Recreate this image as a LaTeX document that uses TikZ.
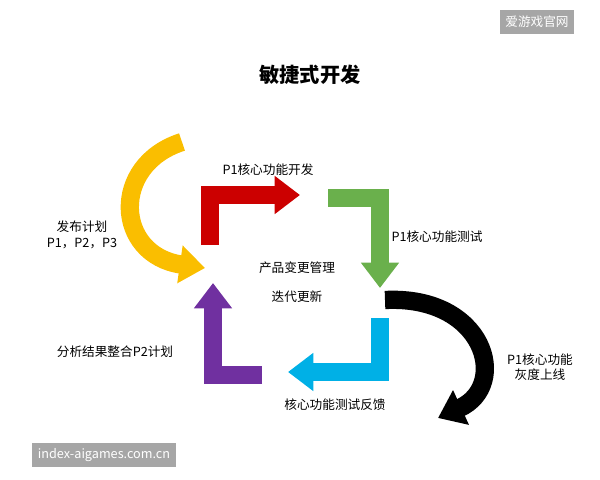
\documentclass[tikz,border=0pt]{standalone}
\usepackage{fontspec}
\setmainfont{Noto Sans CJK SC}
\usetikzlibrary{arrows.meta,positioning}
\definecolor{leaf}{RGB}{106,176,76}
\definecolor{plum}{RGB}{112,48,160}
\definecolor{sky}{RGB}{0,176,230}
\definecolor{gold}{RGB}{250,190,0}
\tikzset{
    flow/.style={line width=13pt, -{Triangle[length=18pt,width=26pt]}},
    lbl/.style={font=\small, align=center},
    wmark/.style={fill=gray!70, text=white, font=\small, inner sep=4pt}
}
\begin{document}
\begin{tikzpicture}[x=0.025cm, y=-0.025cm]
\useasboundingbox (0,0) rectangle (600,480);

% ---------------- Title ----------------
\node[font=\Large\bfseries] (title) at (310,75) {敏捷式开发};

% ---------------- Cycle ----------------
\coordinate (r0) at (210,245);
\coordinate (r1) at (300,195);
\draw[flow, red!80!black] (r0) |- (r1);
\coordinate (g0) at (328,198);
\coordinate (g1) at (380,288);
\draw[flow, leaf] (g0) -| (g1);
\coordinate (b0) at (380,318);
\coordinate (b1) at (288,372);
\draw[flow, sky] (b0) |- (b1);
\coordinate (p0) at (262,375);
\coordinate (p1) at (213,283);
\draw[flow, plum] (p0) -| (p1);

% ---------------- Curved arrows ----------------
\coordinate (y0) at (182,142);
\coordinate (y1) at (205,268);
\draw[flow, gold] (y0) .. controls (110,165) and (115,255) .. (y1);
\coordinate (k0) at (385,300);
\coordinate (k1) at (438,418);
\draw[flow, black] (k0) .. controls (485,295) and (510,385) .. (k1);

% ---------------- Labels ----------------
\node[lbl] (dev) at (268,170) {P1核心功能开发};
\node[lbl] (test) at (437,237) {P1核心功能测试};
\node[lbl] (mgmt) at (297,268) {产品变更管理};
\node[lbl] (iter) at (297,297) {迭代更新};
\node[lbl] (feed) at (335,405) {核心功能测试反馈};
\node[lbl] (plan2) at (115,352) {分析结果整合P2计划};
\node[lbl] (release) at (82,235) {发布计划\\P1，P2，P3};
\node[lbl] (gray) at (540,367) {P1核心功能\\灰度上线};

% ---------------- Marks ----------------
\node[wmark] (wm1) at (537,22) {爱游戏官网};
\node[wmark] (wm2) at (104,455) {index-aigames.com.cn};
\end{tikzpicture}
\end{document}
